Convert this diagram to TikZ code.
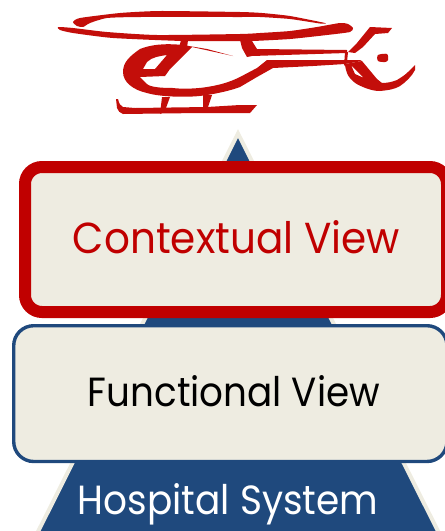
\documentclass[tikz,border=0pt]{standalone}
\usepackage{graphicx}
\usepackage{fontspec}
\setmainfont{Poppins}
\definecolor{heli}{RGB}{195,14,10}
\definecolor{boxred}{RGB}{192,0,0}
\definecolor{navy}{RGB}{31,73,125}
\definecolor{cream}{RGB}{238,236,225}
\tikzset{
  viewbox/.style={rectangle,fill=cream,inner sep=0pt,outer sep=0pt},
  contextbox/.style={viewbox,draw=boxred,line width=12pt,rounded corners=17pt},
  functionbox/.style={viewbox,draw=navy,line width=3.4pt,rounded corners=20pt},
  label/.style={anchor=base,inner sep=0pt,outer sep=0pt},
  helipart/.style={fill=heli,draw=none,even odd rule},
  pyramid/.style={fill=navy,draw=cream,line width=4pt,miter limit=10}
}
\newcommand{\fitlabel}[3]{\resizebox{#1pt}{#2pt}{#3}}
\begin{document}
\begin{tikzpicture}[x=1pt,y=-1pt]
\useasboundingbox (0,0) rectangle (445,531);
\clip (0,0) rectangle (445,531);
% helicopter
\fill[helipart] plot[smooth cycle,tension=0.35] coordinates {(73,22) (80,18) (120,13) (160,11) (240,12) (262,13) (290,16) (325,23) (320,23.5) (290,19) (260,17) (240,17) (140,17) (107,18) (90,23) (83,27) (77,26)};
\fill[helipart] plot[smooth cycle,tension=0.35] coordinates {(58,27) (73,28) (107,32) (157,35) (240,34) (260,33) (290,31) (317,27) (340,23) (348,24) (353,28) (350,32) (327,35) (290,39) (253,41) (240,41) (183,41) (113,38) (73,33) (60,30)};
\fill[helipart] (181,40) -- (188,40) -- (187,48) -- (179,48) -- cycle;
\fill[helipart] (233,56) -- (207,49) -- (183,45) .. controls (163,43) and (150,45) .. (140,49) .. controls (130,56) and (123,62) .. (123,72) .. controls (123,82) and (133,90) .. (147,93) .. controls (160,97) and (190,98) .. (207,95) .. controls (220,93) and (232,90) .. (240,87) -- (257,77) -- (273,68) -- (313,66) -- (345,64) -- (362,61) -- (360,60) -- (267,60) -- (257,68) -- (240,77) .. controls (230,82) and (220,85) .. (207,87) .. controls (195,89) and (180,89) .. (173,88) .. controls (160,88) and (150,87) .. (147,84) -- (140,77) -- (165,76) -- (170,69) -- (192,47) -- cycle
  (143,69) -- (147,62) .. controls (152,57) and (160,56) .. (167,55) -- (155,69) -- cycle;
\fill[helipart] (240,40) -- (252,41) -- (257,49) -- (347,50) -- (347,53) -- (252,56) -- (247,57) -- (242,48) -- cycle;
\fill[helipart] (370,27) -- (392,28) -- (388,33) -- (375,34) -- (363,47) -- (355,53) -- (348,52) -- (357,43) -- cycle;
\fill[helipart] (345,52) -- (348,52) -- (347,62) -- (344,66) -- cycle;
\fill[helipart] (345,65) .. controls (346,72) and (348,76) .. (350,78) .. controls (354,83) and (358,85) .. (363,87) .. controls (370,90) and (375,91) .. (380,91) .. controls (390,90) and (395,89) .. (400,86) .. controls (406,82) and (412,76) .. (415,70) -- (415,65) -- (408,72) .. controls (404,76) and (400,78) .. (397,80) .. controls (392,82) and (387,83) .. (382,83) -- (377,79) -- (362,61) -- (345,64) -- cycle
  (351,65) -- (364,78) -- (355,74) -- cycle;
\fill[helipart] plot[smooth cycle,tension=0.5] coordinates {(378,55) (387,54) (388,60) (385,62) (378,61)};
\fill[helipart] (116,99) -- (118,99) .. controls (119,104) and (121,106) .. (123,107) -- (135,108) -- (207,107) -- (240,105) -- (257,105) -- (250,113) -- (240,113) -- (200,113) -- (123,114) .. controls (120,113) and (118,111) .. (117,108) -- cycle;
\fill[helipart] (162,97) -- (170,97) -- (166,108) -- (160,114) -- cycle;
\fill[helipart] (203,95) -- (212,95) -- (208,107) -- (203,107) -- cycle;
% pyramid
\coordinate (apex) at (238,133.5);
\coordinate (baseL) at (28.3,551);
\coordinate (baseR) at (448,551);
\draw[pyramid] (apex) -- (baseL) -- (baseR) -- cycle;
% boxes
\node[contextbox,minimum width=422pt,minimum height=145pt] (context) at (236,239.5) {};
\node[functionbox,minimum width=433.3pt,minimum height=135.8pt] (function) at (230.35,393.6) {};
% labels
\node[label,text=boxred] (contextlabel) at (236.5,253) {\fitlabel{327}{33}{Contextual View}};
\node[label,text=black] (functionlabel) at (234,406) {\fitlabel{292}{31}{Functional View}};
\node[label,text=white] (hospitallabel) at (228,514) {\fitlabel{300}{31}{Hospital System}};
\end{tikzpicture}
\end{document}
